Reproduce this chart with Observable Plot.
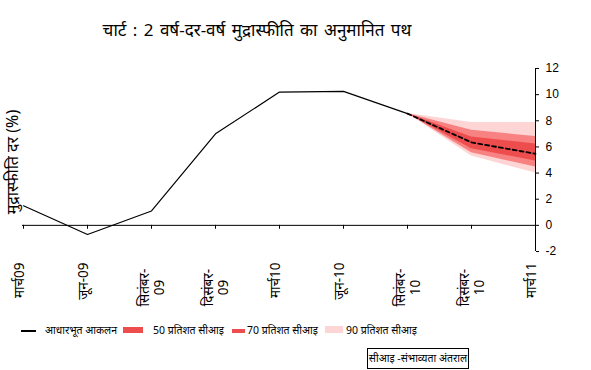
<!DOCTYPE html>
<html>
<head>
<meta charset="utf-8">
<script src="https://cdn.jsdelivr.net/npm/d3@7"></script>
<script src="https://cdn.jsdelivr.net/npm/@observablehq/plot@0.6"></script>
<style>
  html, body { margin: 0; padding: 0; background: #fff; }
  #wrap { position: relative; width: 591px; height: 370px; overflow: hidden; font-family: "Noto Sans", "Noto Sans Devanagari", "Liberation Sans", sans-serif; color: #000; }
  #wrap svg { position: absolute; left: 0; top: 0; }
  .abs { position: absolute; white-space: nowrap; }
  #title { left: 0; width: 514px; top: 18px; text-align: center; font-size: 17px; line-height: 24px; word-spacing: 2px; }
  .lg { font-size: 10.5px; line-height: 16px; top: 322px; }
  .sw { position: absolute; }
  #box { left: 367px; top: 348px; width: 100px; height: 19px; border: 1px solid #000; font-size: 10.5px; line-height: 19px; text-align: center; }
</style>
</head>
<body>
<div id="wrap"></div>
<script>
// ---- data ----
const months = ["मार्च09", "जून-09", "सितंबर-09", "दिसंबर-09", "मार्च10", "जून-10", "सितंबर-10", "दिसंबर-10", "मार्च11"];
const monthLabels = ["मार्च09", "जून-09", "सितंबर-\n09", "दिसंबर-\n09", "मार्च10", "जून-10", "सितंबर-\n10", "दिसंबर-\n10", "मार्च11"];
const actual = [1.5, -0.7, 1.1, 7.0, 10.2, 10.25, 8.55];
const fanMonths = ["सितंबर-10", "दिसंबर-10", "मार्च11"];
const baseline = [8.55, 6.35, 5.47];
const ci50Low = [8.55, 5.87, 4.92];
const ci50High = [8.55, 6.76, 6.22];
const ci70Low = [8.55, 5.56, 4.46];
const ci70High = [8.55, 7.27, 6.80];
const ci90Low = [8.55, 5.30, 4.0];
const ci90High = [8.55, 7.86, 7.86];
const yTicks = [-2, 0, 2, 4, 6, 8, 10, 12];

const title = "चार्ट : 2 वर्ष-दर-वर्ष मुद्रास्फीति का अनुमानित पथ";
const yLabel = "मुद्रास्फीति दर (%)";
const legendItems = [
  {label: "आधारभूत आकलन", color: "#000"},
  {label: "50 प्रतिशत सीआइ", color: "#EE4D4D"},
  {label: "70 प्रतिशत सीआइ", color: "#EE4D4D"},
  {label: "90 प्रतिशत सीआइ", color: "#FDD5D5"}
];
const note = "सीआइ -संभाव्यता अंतराल";

// ---- tables ----
const actualRows = months.slice(0, actual.length).map((m, i) => ({m, v: actual[i]}));
const fanRows = fanMonths.map((m, i) => ({
  m, base: baseline[i],
  l50: ci50Low[i], h50: ci50High[i],
  l70: ci70Low[i], h70: ci70High[i],
  l90: ci90Low[i], h90: ci90High[i]
}));
const labelRows = months.map((m, i) => ({m, t: monthLabels[i], two: monthLabels[i].includes("\n")}));

const dark = "#EE4D4D", mid = "#F88282", light = "#FDD5D5";
const hindiFont = "'Noto Sans', 'Noto Sans Devanagari', sans-serif";

const chart = Plot.plot({
  width: 591,
  height: 370,
  marginTop: 68,
  marginBottom: 119,
  marginLeft: 22,
  marginRight: 56,
  style: {background: "transparent", fontFamily: "'Liberation Sans', Arial, sans-serif", color: "#000"},
  x: {type: "point", domain: months, padding: 0, axis: null},
  y: {domain: [-2, 12], axis: null},
  marks: [
    Plot.areaY(fanRows, {x: "m", y1: "l90", y2: "h90", fill: light}),
    Plot.areaY(fanRows, {x: "m", y1: "l70", y2: "h70", fill: mid}),
    Plot.areaY(fanRows, {x: "m", y1: "l50", y2: "h50", fill: dark}),
    Plot.ruleY([0], {stroke: "#000", strokeWidth: 1}),
    Plot.ruleX(months, {x: d => d, y1: 0, y2: -0.3, stroke: "#000", strokeWidth: 1}),
    Plot.ruleX([months[months.length - 1]], {y1: -2, y2: 12, stroke: "#000", strokeWidth: 1}),
    Plot.axisY({anchor: "right", ticks: yTicks, tickSize: 3, tickPadding: 7, fontSize: 12, tickFormat: d => String(d), label: null, stroke: "#000"}),
    Plot.line(actualRows, {x: "m", y: "v", stroke: "#000", strokeWidth: 1.2}),
    Plot.line(fanRows, {x: "m", y: "base", stroke: "#000", strokeWidth: 1.8, strokeDasharray: "4,3"}),
    Plot.text(labelRows.filter(d => !d.two), {x: "m", text: "t", frameAnchor: "bottom", dy: 11, rotate: -90, textAnchor: "end", fontSize: 13.5, fontFamily: hindiFont}),
    Plot.text(labelRows.filter(d => d.two), {x: "m", text: "t", frameAnchor: "bottom", dy: 36, rotate: -90, textAnchor: "middle", lineAnchor: "middle", lineHeight: 1.1, fontSize: 13.5, fontFamily: hindiFont}),
    Plot.text([yLabel], {frameAnchor: "left", dx: -10, dy: 2, rotate: -90, textAnchor: "middle", fontSize: 16, fontFamily: hindiFont})
  ]
});

const wrap = document.getElementById("wrap");
wrap.appendChild(chart);

const t = document.createElement("div");
t.id = "title"; t.className = "abs"; t.textContent = title;
wrap.appendChild(t);

// legend
const swatches = [
  {left: 21, top: 329.5, w: 15, h: 2.5},
  {left: 123, top: 327, w: 20, h: 6},
  {left: 232, top: 328.5, w: 13, h: 4},
  {left: 325, top: 326, w: 18, h: 7}
];
const textLefts = [45, 153, 247, 346];
legendItems.forEach((it, i) => {
  const s = document.createElement("div");
  s.className = "sw";
  Object.assign(s.style, {left: swatches[i].left + "px", top: swatches[i].top + "px", width: swatches[i].w + "px", height: swatches[i].h + "px", background: it.color});
  wrap.appendChild(s);
  const l = document.createElement("div");
  l.className = "abs lg";
  l.style.left = textLefts[i] + "px";
  l.textContent = it.label;
  wrap.appendChild(l);
});
const b = document.createElement("div");
b.id = "box"; b.className = "abs"; b.textContent = note;
wrap.appendChild(b);
</script>
</body>
</html>
